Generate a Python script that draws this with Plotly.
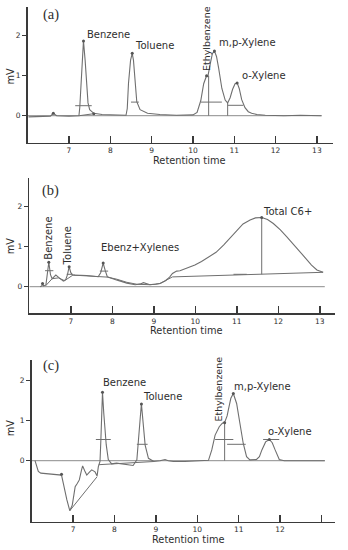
import plotly.graph_objects as go

# ---------------- data: panel (a) ----------------
A_TIME = [6.02, 6.30, 6.55, 6.62, 6.70, 7.00, 7.24, 7.26, 7.29, 7.31, 7.35, 7.39, 7.42, 7.46, 7.50,
          7.60, 7.80, 8.10, 8.38, 8.41, 8.44, 8.49, 8.53, 8.56, 8.60, 8.64, 8.72, 8.90, 9.20, 9.60,
          10.00, 10.10, 10.19, 10.26, 10.33, 10.36, 10.42, 10.47, 10.52, 10.57, 10.62, 10.70, 10.78,
          10.84, 10.90, 10.96, 11.02, 11.07, 11.12, 11.18, 11.26, 11.34, 11.42, 11.55, 11.75, 12.20,
          12.60, 13.12]
A_MV = [-0.03, -0.02, -0.01, 0.06, 0.00, -0.01, 0.00, 0.20, 0.81, 1.39, 1.87, 1.39, 0.81, 0.32, 0.15,
        0.06, 0.03, 0.02, 0.01, 0.18, 0.81, 1.39, 1.56, 1.39, 0.81, 0.35, 0.15, 0.06, 0.03, 0.01,
        0.02, 0.08, 0.38, 0.80, 1.00, 0.98, 1.30, 1.55, 1.62, 1.48, 1.20, 0.68, 0.39,
        0.32, 0.45, 0.66, 0.80, 0.82, 0.68, 0.40, 0.20, 0.10, 0.06, 0.03, 0.01, 0.00,
        0.01, 0.00]
A_HSEG_T0 = [7.15, 8.50, 10.19, 10.84]
A_HSEG_T1 = [7.55, 8.69, 10.70, 11.22]
A_HSEG_V = [0.25, 0.34, 0.34, 0.26]
A_VSEG_T = [10.38, 10.84]
A_VSEG_V0 = [0.0, 0.0]
A_VSEG_V1 = [1.0, 0.32]
A_BASE_T = [7.25, 7.60]
A_BASE_V = [0.0, 0.05]
A_APEX_T = [6.62, 7.35, 7.60, 8.53, 10.33, 10.52, 11.07]
A_APEX_V = [0.06, 1.87, 0.05, 1.56, 1.00, 1.62, 0.82]
A_NAMES = ["Benzene", "Toluene", "Ethylbenzene", "m,p-Xylene", "o-Xylene"]

# ---------------- data: panel (b) ----------------
B_TIME = [6.26, 6.30, 6.32, 6.34, 6.40, 6.43, 6.47, 6.51, 6.55, 6.60, 6.64, 6.70, 6.76, 6.82, 6.88,
          6.92, 6.96, 7.00, 7.04, 7.10, 7.38, 7.66, 7.72, 7.78, 7.83, 7.88, 8.10, 8.35, 8.55, 8.68,
          8.75, 8.82, 8.91, 9.05, 9.15, 9.28, 9.38, 9.45, 9.50, 9.55, 9.63, 9.99, 10.15, 10.35, 10.50,
          10.68, 10.85, 11.00, 11.15, 11.32, 11.45, 11.60, 11.74, 11.88, 12.05, 12.20, 12.36, 12.52,
          12.66, 12.80, 12.93, 13.08]
B_MV = [0.00, 0.02, 0.08, 0.02, 0.04, 0.25, 0.61, 0.30, 0.20, 0.25, 0.29, 0.24, 0.18, 0.14, 0.18,
        0.30, 0.50, 0.35, 0.30, 0.29, 0.28, 0.25, 0.35, 0.59, 0.40, 0.25, 0.17, 0.09, 0.05, 0.07,
        0.10, 0.08, 0.05, 0.06, 0.08, 0.15, 0.24, 0.33, 0.37, 0.39, 0.40, 0.54, 0.63, 0.75, 0.86,
        1.04, 1.23, 1.42, 1.57, 1.67, 1.72, 1.73, 1.68, 1.58, 1.42, 1.25, 1.07, 0.88,
        0.71, 0.54, 0.42, 0.36]
B_BASE_T = [6.40, 6.55, 6.70, 6.85, 7.05, 7.70, 7.88, 8.10, 8.35, 8.60, 8.90, 9.15, 9.45, 13.08]
B_BASE_V = [0.03, 0.20, 0.22, 0.15, 0.29, 0.25, 0.24, 0.19, 0.11, 0.06, 0.05, 0.08, 0.245, 0.36]
B_HSEG_T0 = [6.38, 6.90, 7.70, 10.92]
B_HSEG_T1 = [6.58, 7.03, 7.90, 11.24]
B_HSEG_V = [0.40, 0.31, 0.39, 0.31]
B_VSEG_T = [11.60]
B_VSEG_V0 = [0.31]
B_VSEG_V1 = [1.73]
B_APEX_T = [6.32, 6.47, 6.96, 7.78, 11.60]
B_APEX_V = [0.08, 0.61, 0.50, 0.59, 1.73]
B_NAMES = ["Benzene", "Toluene", "Ebenz+Xylenes", "Total C6+"]

# ---------------- data: panel (c) ----------------
C_TIME = [6.08, 6.12, 6.16, 6.22, 6.45, 6.68, 6.72, 6.76, 6.80, 6.85, 6.92, 6.98, 7.02, 7.05, 7.10,
          7.15, 7.20, 7.23, 7.28, 7.33, 7.40, 7.45, 7.53, 7.58, 7.61, 7.65, 7.67, 7.69, 7.71, 7.74,
          7.77, 7.80, 7.85, 7.93, 8.05, 8.25, 8.45, 8.54, 8.58, 8.62, 8.65, 8.68, 8.71, 8.74, 8.82,
          8.95, 9.10, 9.22, 9.30, 9.42, 9.70, 9.99, 10.27, 10.35, 10.43, 10.53, 10.60, 10.67, 10.72,
          10.75, 10.81, 10.87, 10.95, 11.03, 11.11, 11.19, 11.27, 11.43, 11.50, 11.56, 11.65, 11.74,
          11.81, 11.88, 11.98, 12.10, 12.60, 13.08]
C_MV = [0.00, -0.15, -0.27, -0.31, -0.33, -0.34, -0.36, -0.55, -0.78, -0.98, -1.25, -1.11, -0.85, -0.65, -0.57,
        -0.48, -0.25, -0.13, -0.25, -0.36, -0.28, -0.23, -0.28, -0.38, -0.15, -0.02, 0.50, 1.20, 1.71, 1.20,
        0.75, 0.40, 0.03, -0.08, -0.06, -0.09, -0.12, 0.02, 0.45, 1.05, 1.42, 1.10, 0.70, 0.39, 0.06,
        -0.02, 0.00, 0.03, 0.00, -0.02, -0.02, 0.00, 0.01, 0.27, 0.64, 0.85, 0.93, 0.98, 1.12,
        1.27, 1.56, 1.68, 1.43, 0.93, 0.43, 0.10, 0.02, 0.03, 0.10, 0.27, 0.47, 0.53,
        0.45, 0.27, 0.03, 0.00, 0.00, 0.00]
C_BASE_T = [6.92, 7.58, None, 7.62, 8.95]
C_BASE_V = [-1.25, -0.40, None, -0.10, -0.02]
C_HSEG_T0 = [7.55, 8.54, 10.43, 10.72, 11.59]
C_HSEG_T1 = [7.91, 8.80, 10.87, 11.17, 11.98]
C_HSEG_V = [0.53, 0.41, 0.53, 0.41, 0.53]
C_VSEG_T = [10.66]
C_VSEG_V0 = [0.0]
C_VSEG_V1 = [0.95]
C_APEX_T = [6.72, 7.71, 8.65, 10.66, 10.87, 11.74]
C_APEX_V = [-0.34, 1.71, 1.42, 0.95, 1.68, 0.53]
C_NAMES = ["Benzene", "Toluene", "Ethylbenzene", "m,p-Xylene", "o-Xylene"]

X_TICKS = [7, 8, 9, 10, 11, 12, 13]
X_TICKTEXT_C = ["7", "8", "9", "10", "11", "12", ""]
Y_TICKS = [0, 1, 2]
ZERO_END = [13.10, 13.12, 13.08]

# ---------------- styling ----------------
CURVE = "#6f6f6f"
ZERO = "#8c8c8c"
AXIS = "#3a3a3a"
TXT = "#2e2e2e"
FONT = "DejaVu Sans"

fig = go.Figure()


def segs_h(t0, t1, v):
    xs, ys = [], []
    for a, b, c in zip(t0, t1, v):
        xs += [a, b, None]
        ys += [c, c, None]
    return xs, ys


def segs_v(t, v0, v1):
    xs, ys = [], []
    for a, b, c in zip(t, v0, v1):
        xs += [a, a, None]
        ys += [b, c, None]
    return xs, ys


def add_panel(idx, tt, vv, bt, bv, h0, h1, hv, vt, vv0, vv1, at, av, zend):
    xa = "x" if idx == 1 else "x%d" % idx
    ya = "y" if idx == 1 else "y%d" % idx
    fig.add_trace(go.Scatter(x=[6.0, zend], y=[0, 0], mode="lines",
                             line=dict(color=ZERO, width=1), xaxis=xa, yaxis=ya))
    fig.add_trace(go.Scatter(x=bt, y=bv, mode="lines",
                             line=dict(color=CURVE, width=1), xaxis=xa, yaxis=ya))
    fig.add_trace(go.Scatter(x=tt, y=vv, mode="lines",
                             line=dict(color=CURVE, width=1.1), xaxis=xa, yaxis=ya))
    hx, hy = segs_h(h0, h1, hv)
    fig.add_trace(go.Scatter(x=hx, y=hy, mode="lines",
                             line=dict(color=CURVE, width=1), xaxis=xa, yaxis=ya))
    vx, vy = segs_v(vt, vv0, vv1)
    fig.add_trace(go.Scatter(x=vx, y=vy, mode="lines",
                             line=dict(color=CURVE, width=1), xaxis=xa, yaxis=ya))
    fig.add_trace(go.Scatter(x=at, y=av, mode="markers",
                             marker=dict(color="#555555", size=3), xaxis=xa, yaxis=ya))


add_panel(1, A_TIME, A_MV, A_BASE_T, A_BASE_V, A_HSEG_T0, A_HSEG_T1, A_HSEG_V,
          A_VSEG_T, A_VSEG_V0, A_VSEG_V1, A_APEX_T, A_APEX_V, ZERO_END[0])
add_panel(2, B_TIME, B_MV, B_BASE_T, B_BASE_V, B_HSEG_T0, B_HSEG_T1, B_HSEG_V,
          B_VSEG_T, B_VSEG_V0, B_VSEG_V1, B_APEX_T, B_APEX_V, ZERO_END[1])
add_panel(3, C_TIME, C_MV, C_BASE_T, C_BASE_V, C_HSEG_T0, C_HSEG_T1, C_HSEG_V,
          C_VSEG_T, C_VSEG_V0, C_VSEG_V1, C_APEX_T, C_APEX_V, ZERO_END[2])

W, H = 348, 550


def xax(dom, rng, anchor, ticktext=None):
    d = dict(domain=dom, range=rng, anchor=anchor, showgrid=False, zeroline=False,
             showline=True, linecolor=AXIS, linewidth=1.6,
             ticks="inside", ticklen=7, tickwidth=1.5, tickcolor=AXIS,
             tickvals=X_TICKS, tickfont=dict(family=FONT, size=7.5, color=TXT))
    if ticktext is not None:
        d["ticktext"] = ticktext
    return d


def yax(dom, rng, anchor):
    return dict(domain=dom, range=rng, anchor=anchor, showgrid=False, zeroline=False,
                showline=True, linecolor=AXIS, linewidth=1.6,
                ticks="outside", ticklen=4, tickwidth=1.3, tickcolor=AXIS,
                tickvals=Y_TICKS, tickfont=dict(family=FONT, size=7.5, color=TXT))


layout = dict(
    width=W, height=H, margin=dict(l=0, r=0, t=0, b=0),
    paper_bgcolor="white", plot_bgcolor="white", showlegend=False, hovermode=False,
    xaxis=xax([27.7 / W, 333 / W], [6.0, 13.39], "y"),
    yaxis=yax([1 - 142.7 / H, 1 - 6.7 / H], [-0.675, 2.725], "x"),
    xaxis2=xax([29.3 / W, 335 / W], [6.0, 13.366], "y2"),
    yaxis2=yax([1 - 313.3 / H, 1 - 178.3 / H], [-0.665, 2.71], "x2"),
    xaxis3=xax([31.7 / W, 335 / W], [6.0, 13.326], "y3", X_TICKTEXT_C),
    yaxis3=yax([1 - 521.7 / H, 1 - 360 / H], [-1.525, 2.5175], "x3"),
)
fig.update_layout(**layout)

ann = []


def paper_text(txt, px, py, size, family=FONT, angle=0):
    ann.append(dict(text=txt, x=px / W, y=1 - py / H, xref="paper", yref="paper",
                    showarrow=False, xanchor="center", yanchor="middle", textangle=angle,
                    font=dict(family=family, size=size, color=TXT)))


def data_text(txt, t, v, idx, angle=0, size=10):
    xa = "x" if idx == 1 else "x%d" % idx
    ya = "y" if idx == 1 else "y%d" % idx
    ann.append(dict(text=txt, x=t, y=v, xref=xa, yref=ya, showarrow=False,
                    xanchor="center", yanchor="middle", textangle=angle,
                    font=dict(family=FONT, size=size, color=TXT)))


# panel labels and axis titles
for lab, py_lab, py_mv, py_rt, px_rt in [("(a)", 15, 75.7, 160, 189.7),
                                         ("(b)", 190.5, 245.5, 330.8, 186.3),
                                         ("(c)", 365.3, 427.5, 539.5, 188.8)]:
    paper_text(lab, 51, py_lab, 14.5, family="Liberation Serif")
    paper_text("mV", 10.8, py_mv, 9.8, angle=-90)
    paper_text("Retention time", px_rt, py_rt, 9.8)

# peak labels (a)
for name, t, v, ang in zip(A_NAMES, [7.96, 9.06, 10.33, 11.31, 11.71],
                           [2.04, 1.75, 1.93, 1.83, 1.01], [0, 0, -90, 0, 0]):
    data_text(name, t, v, 1, ang, 9.5 if ang else 10)
# peak labels (b)
for name, t, v, ang in zip(B_NAMES, [6.47, 6.93, 8.67, 12.22],
                           [1.22, 1.03, 0.98, 1.89], [-90, -90, 0, 0]):
    data_text(name, t, v, 2, ang)
# peak labels (c)
for name, t, v, ang in zip(C_NAMES, [8.25, 9.16, 10.51, 11.57, 12.25],
                           [1.96, 1.60, 1.79, 1.85, 0.73], [0, 0, -90, 0, 0]):
    data_text(name, t, v, 3, ang, 9.5 if ang else 10)

fig.update_layout(annotations=ann)
fig.write_html("out.html", config={"displayModeBar": False, "staticPlot": True},
               post_script="document.body.style.margin='0px';document.body.style.padding='0px';")
